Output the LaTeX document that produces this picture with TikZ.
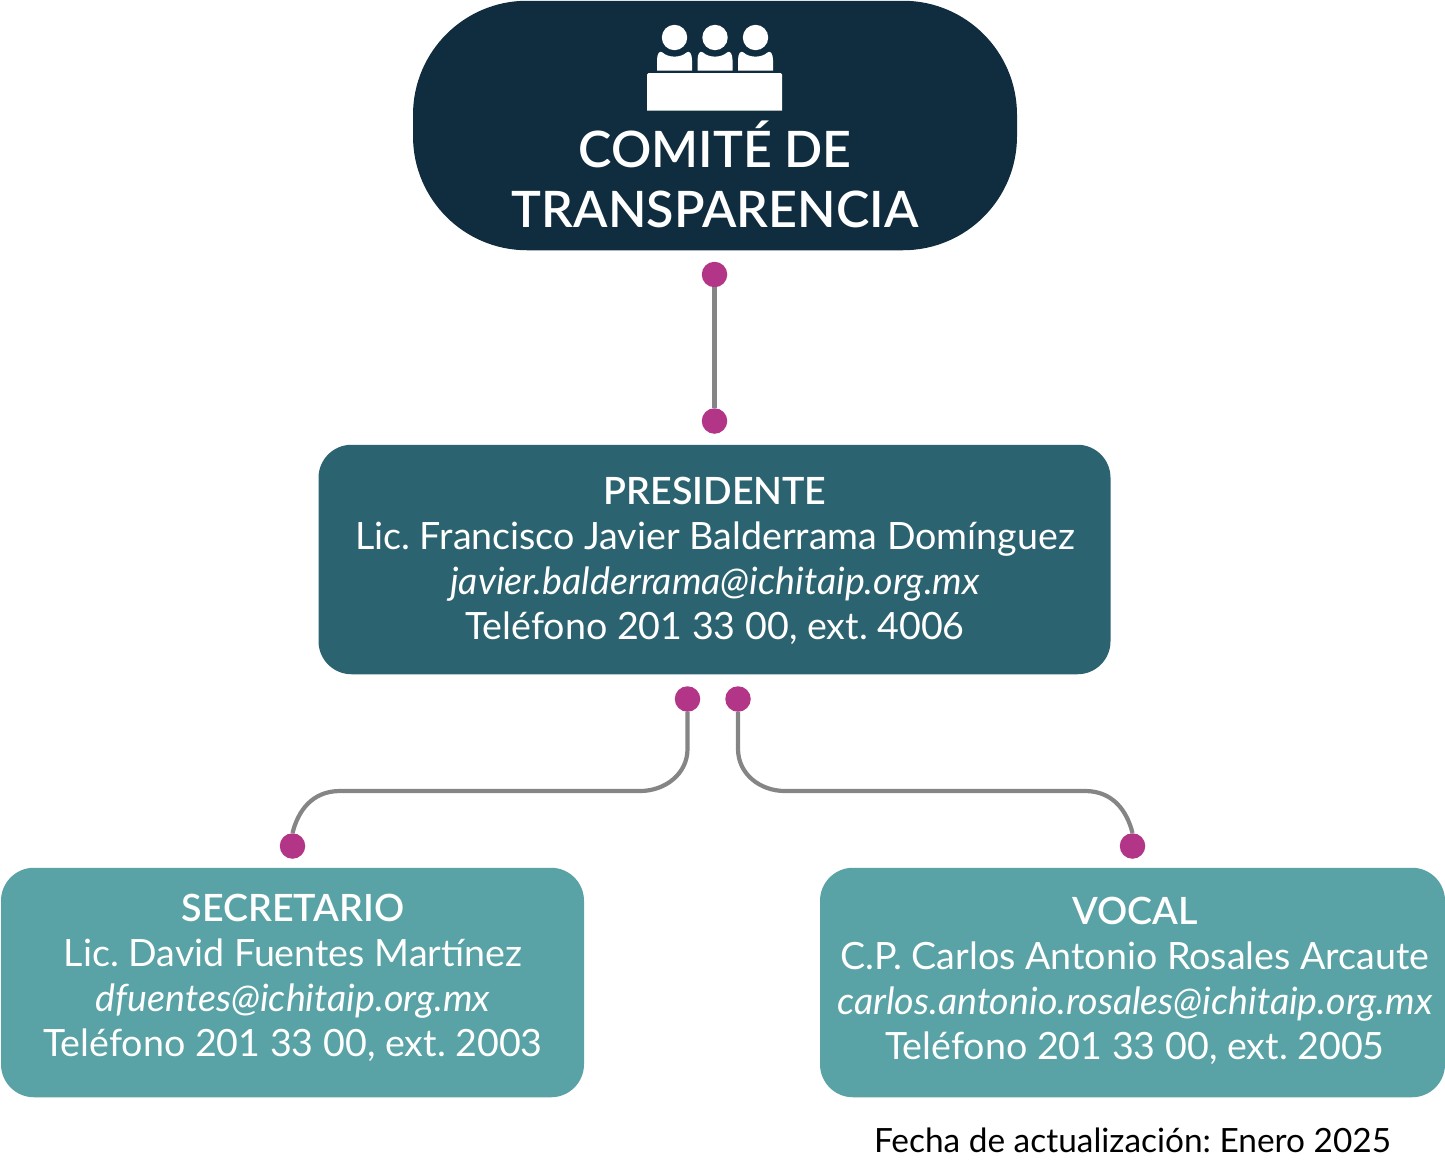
\documentclass[tikz,border=0pt]{standalone}
\usepackage{fontspec}
\setmainfont{Lato}
\frenchspacing
\definecolor{navy}{HTML}{102D3F}
\definecolor{teal1}{HTML}{2C6370}
\definecolor{teal2}{HTML}{59A2A5}
\definecolor{dotc}{HTML}{B23587}
\definecolor{linec}{HTML}{858585}
\newfontfamily\latoB{Lato Semibold}
\tikzset{
 box/.style={rounded corners=#1,inner sep=0pt,text=white,align=center,font=\frenchspacing\fontsize{37.6}{45}\selectfont},
 dotn/.style={circle,fill=dotc,minimum size=25.5pt,inner sep=0pt},
 conn/.style={draw=linec,line width=4.2pt}
}
\begin{document}
\begin{tikzpicture}[x=1pt,y=-1pt]
\useasboundingbox (0,0) rectangle (1445,1162);
% top
\node[box=114pt,fill=navy,minimum width=604pt,minimum height=249.5pt] (top) at (715,125.5) {};
\node[text=white,align=center,inner sep=0pt,font=\latoB\frenchspacing\fontsize{50.2}{60}\selectfont] (title) at (715,174.5) {COMITÉ DE\\TRANSPARENCIA};
% icon
\begin{scope}
\fill[white] (647,74.5) [rounded corners=1.5pt] -- (647,73) -- (782,73) [sharp corners] -- (782,110.5) -- (647,110.5) -- cycle;
\foreach \c in {674.5,715,755.5}{
 \fill[white] (\c,37.5) circle (12.7);
 \fill[white] (\c-17.5,70.5) -- (\c-17.5,60) .. controls (\c-17.5,54) and (\c-15,50) .. (\c-12,52.5)
   .. controls (\c-6,58) and (\c+6,58) .. (\c+12,52.5) .. controls (\c+15,50) and (\c+17.5,54) .. (\c+17.5,60) -- (\c+17.5,70.5) -- cycle;
}
\end{scope}
% boxes
\node[box=33pt,fill=teal1,minimum width=792pt,minimum height=229.5pt] (pres) at (714.5,559.5) {};
\node[box=33pt,fill=teal2,minimum width=583pt,minimum height=229.5pt] (sec) at (292.5,982.5) {};
\node[box=33pt,fill=teal2,minimum width=625pt,minimum height=229.5pt] (voc) at (1132.5,982.5) {};
\node[box=0pt] (prest) at (715,560.5)
 {{\latoB PRESIDENTE}\\Lic. Francisco Javier Balderrama Domínguez\\\textit{javier.balderrama@ichitaip.org.mx}\\Teléfono 201 33 00, ext. 4006};
\node[box=0pt] (sect) at (293,977.5)
 {{\latoB SECRETARIO}\\Lic. David Fuentes Martínez\\\textit{dfuentes@ichitaip.org.mx}\\Teléfono 201 33 00, ext. 2003};
\node[box=0pt] (voct) at (1135,980.5)
 {{\latoB VOCAL}\\C.P. Carlos Antonio Rosales Arcaute\\\textit{carlos.antonio.rosales@ichitaip.org.mx}\\Teléfono 201 33 00, ext. 2005};
\node[inner sep=0pt,anchor=base,font=\frenchspacing\fontsize{33.4}{38}\selectfont] (fecha) at (1132.5,1152) {Fecha de actualización: Enero 2025};
% dots
\node[dotn] (d1) at (714.5,274.5) {};
\node[dotn] (d2) at (714.5,421) {};
\node[dotn] (d3) at (687.5,699) {};
\node[dotn] (d4) at (738,699) {};
\node[dotn] (d5) at (292.5,846) {};
\node[dotn] (d6) at (1132.5,846) {};
\draw[conn] (d1) -- (d2);
\draw[conn] (d3.south) -- ++(0,37) .. controls +(0,25) and (665,791) .. (640,791) -- (340,791) .. controls (312,791) and (298,811) .. (d5.north);
\draw[conn] (d4.south) -- ++(0,37) .. controls +(0,25) and (760,791) .. (785,791) -- (1085,791) .. controls (1113,791) and (1127,811) .. (d6.north);
\end{tikzpicture}
\end{document}
